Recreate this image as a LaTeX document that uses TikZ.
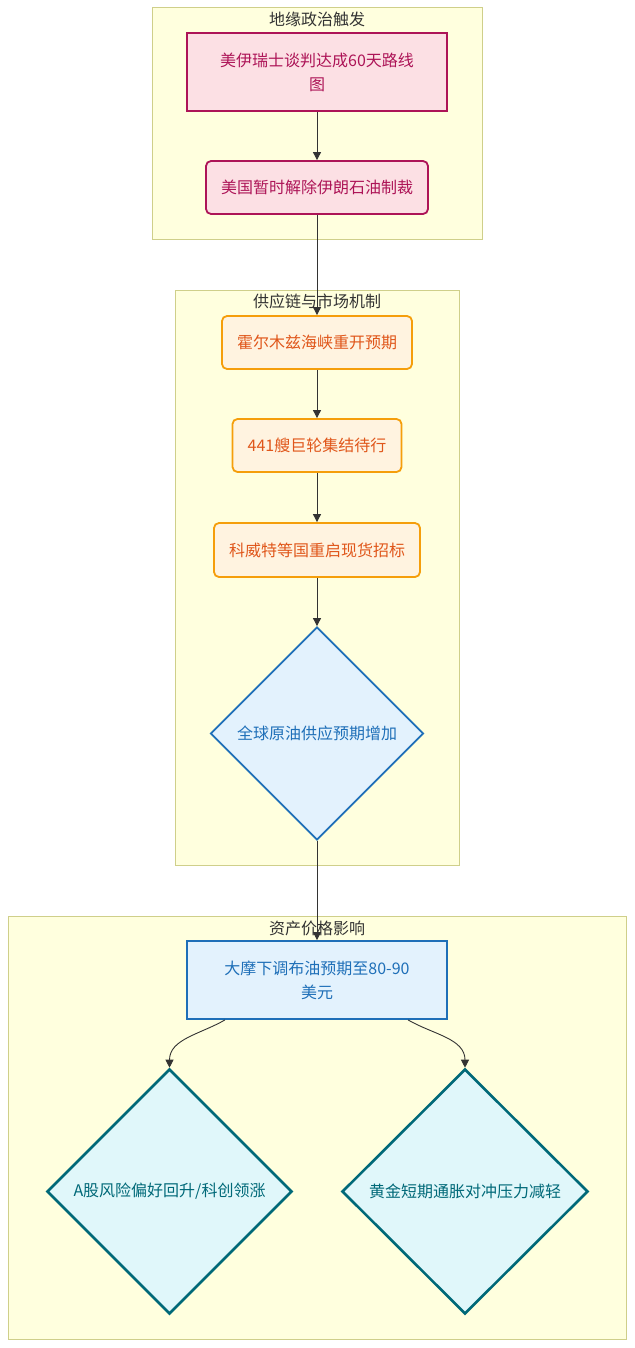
\documentclass[tikz,border=0pt]{standalone}
\usepackage{fontspec}
\setmainfont{Noto Sans CJK SC}
\usepackage{xcolor}
\usetikzlibrary{shapes.geometric,arrows.meta}

\definecolor{clusterfill}{HTML}{FFFFDE}
\definecolor{clusterline}{HTML}{CFCF8A}
\definecolor{titletext}{HTML}{333333}
\definecolor{pinkfill}{HTML}{FCE0E4}
\definecolor{pinkline}{HTML}{AD1457}
\definecolor{orangefill}{HTML}{FFF3E0}
\definecolor{orangeline}{HTML}{F59E0B}
\definecolor{orangetext}{HTML}{E0561A}
\definecolor{bluefill}{HTML}{E3F2FD}
\definecolor{blueline}{HTML}{1E6FB8}
\definecolor{tealfill}{HTML}{E0F7FA}
\definecolor{tealline}{HTML}{006978}

\begin{document}
\begin{tikzpicture}[x=1pt,y=-1pt,
    font=\fontsize{16}{24}\selectfont,
    cluster/.style={draw=clusterline,fill=clusterfill,line width=1pt},
    clustertitle/.style={text=titletext,inner sep=0pt},
    trigger/.style={draw=pinkline,fill=pinkfill,text=pinkline,line width=1.8pt,align=center},
    supply/.style={draw=orangeline,fill=orangefill,text=orangetext,line width=1.8pt,rounded corners=5pt,align=center,minimum height=53pt},
    asset/.style={draw=blueline,fill=bluefill,text=blueline,line width=1.8pt,align=center},
    check/.style={diamond,shape aspect=1,inner sep=0pt,align=center},
    arr/.style={draw=titletext,line width=0.9pt,-{Triangle[length=8pt,width=8pt]}}]

\useasboundingbox (0,0) rectangle (634,1348);
\fill[white] (0,0) rectangle (634,1348);

% clusters
\draw[cluster] (152,8) rectangle (482,240);
\draw[cluster] (175,290) rectangle (459,865);
\draw[cluster] (8,916) rectangle (626,1339);

% geopolitics
\node[trigger,minimum width=260pt,minimum height=78pt] (talks) at (317,72) {美伊瑞士谈判达成60天路线\\图};
\node[trigger,rounded corners=5pt,minimum width=222pt,minimum height=53pt] (waiver) at (317,187.5) {美国暂时解除伊朗石油制裁};

% supply chain
\node[supply,minimum width=190pt] (hormuz) at (317,342.5) {霍尔木兹海峡重开预期};
\node[supply,minimum width=169pt] (ships) at (317,445.5) {441艘巨轮集结待行};
\node[supply,minimum width=206pt,minimum height=54pt] (tender) at (317,550) {科威特等国重启现货招标};
\node[check,draw=blueline,fill=bluefill,text=blueline,line width=1.8pt,minimum width=213pt,minimum height=213pt] (supplyup) at (317,733.5) {全球原油供应预期增加};

% assets
\node[asset,minimum width=260pt,minimum height=78pt] (brent) at (317,980) {大摩下调布油预期至80-90\\美元};
\node[check,draw=tealline,fill=tealfill,text=tealline,line width=2.6pt,minimum width=245pt,minimum height=245pt] (stocks) at (169.5,1191.5) {A股风险偏好回升/科创领涨};
\node[check,draw=tealline,fill=tealfill,text=tealline,line width=2.6pt,minimum width=246pt,minimum height=245pt] (gold) at (465,1191.5) {黄金短期通胀对冲压力减轻};

% edges
\draw[arr] (talks) -- (waiver);
\draw[arr] (waiver) -- (hormuz);
\draw[arr] (hormuz) -- (ships);
\draw[arr] (ships) -- (tender);
\draw[arr] (tender) -- (supplyup);
\draw[arr] (supplyup) -- (brent);
\draw[arr] ([xshift=-92pt]brent.south) to[out=-150,in=90] (stocks.north);
\draw[arr] ([xshift=91pt]brent.south) to[out=-30,in=90] (gold.north);

% cluster titles
\node[clustertitle] (geotitle) at (317,19) {地缘政治触发};
\node[clustertitle] (supplytitle) at (317,301) {供应链与市场机制};
\node[clustertitle] (assettitle) at (317,928) {资产价格影响};
\end{tikzpicture}
\end{document}
